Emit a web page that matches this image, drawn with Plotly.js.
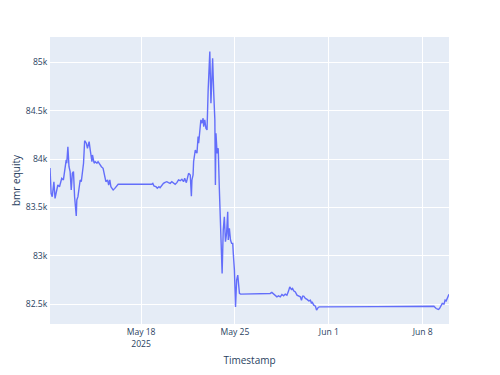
<!DOCTYPE html>
<html>
<head>
<meta charset="utf-8">
<script src="https://cdn.plot.ly/plotly-3.0.1.min.js"></script>
<style>html,body{margin:0;padding:0;background:#fff;}#chart{width:500px;height:375px;}</style>
</head>
<body>
<div id="chart"></div>
<script>
var timestamps = [
"2025-05-11 05:00","2025-05-11 07:00","2025-05-11 09:00","2025-05-11 12:00","2025-05-11 14:00","2025-05-11 17:00",
"2025-05-11 19:00","2025-05-11 22:00","2025-05-12 00:00","2025-05-12 02:00","2025-05-12 05:00","2025-05-12 07:00",
"2025-05-12 10:00","2025-05-12 11:00","2025-05-12 13:00","2025-05-12 15:00","2025-05-12 17:00","2025-05-12 19:00",
"2025-05-12 21:00","2025-05-12 23:00","2025-05-13 01:00","2025-05-13 04:00","2025-05-13 05:00","2025-05-13 07:00",
"2025-05-13 09:00","2025-05-13 11:00","2025-05-13 13:00","2025-05-13 15:00","2025-05-13 17:00","2025-05-13 19:00",
"2025-05-13 22:00","2025-05-14 00:00","2025-05-14 03:00","2025-05-14 05:00","2025-05-14 08:00","2025-05-14 09:00",
"2025-05-14 12:00","2025-05-14 14:00","2025-05-14 17:00","2025-05-14 19:00","2025-05-14 22:00","2025-05-15 01:00",
"2025-05-15 04:00","2025-05-15 07:00","2025-05-15 09:00","2025-05-15 12:00","2025-05-15 14:00","2025-05-15 16:00",
"2025-05-15 18:00","2025-05-15 20:00","2025-05-15 22:00","2025-05-16 01:00","2025-05-16 04:00","2025-05-16 07:00",
"2025-05-18 19:00","2025-05-18 21:00","2025-05-18 23:00","2025-05-19 03:00","2025-05-19 05:00","2025-05-19 08:00",
"2025-05-19 10:00","2025-05-19 13:00","2025-05-19 16:00","2025-05-19 19:00","2025-05-19 22:00","2025-05-20 01:00",
"2025-05-20 04:00","2025-05-20 07:00","2025-05-20 10:00","2025-05-20 13:00","2025-05-20 16:00","2025-05-20 19:00",
"2025-05-20 22:00","2025-05-21 01:00","2025-05-21 04:00","2025-05-21 06:00","2025-05-21 09:00","2025-05-21 11:00",
"2025-05-21 13:00","2025-05-21 16:00","2025-05-21 18:00","2025-05-21 19:00","2025-05-21 21:00","2025-05-21 22:00",
"2025-05-22 01:00","2025-05-22 04:00","2025-05-22 06:00","2025-05-22 07:00","2025-05-22 09:00","2025-05-22 11:00",
"2025-05-22 13:00","2025-05-22 15:00","2025-05-22 16:00","2025-05-22 18:00","2025-05-22 20:00","2025-05-22 22:00",
"2025-05-23 00:00","2025-05-23 01:00","2025-05-23 03:00","2025-05-23 05:00","2025-05-23 07:00","2025-05-23 08:00",
"2025-05-23 10:00","2025-05-23 12:00","2025-05-23 13:00","2025-05-23 14:00","2025-05-23 16:00","2025-05-23 18:00",
"2025-05-23 20:00","2025-05-23 22:00","2025-05-24 01:00","2025-05-24 03:00","2025-05-24 05:00","2025-05-24 07:00",
"2025-05-24 09:00","2025-05-24 11:00","2025-05-24 12:00","2025-05-24 14:00","2025-05-24 16:00","2025-05-24 18:00",
"2025-05-24 20:00","2025-05-24 21:00","2025-05-24 23:00","2025-05-25 01:00","2025-05-25 03:00","2025-05-25 05:00",
"2025-05-25 06:00","2025-05-25 08:00","2025-05-25 10:00","2025-05-27 15:00","2025-05-27 18:00","2025-05-27 21:00",
"2025-05-28 00:00","2025-05-28 03:00","2025-05-28 06:00","2025-05-28 09:00","2025-05-28 12:00","2025-05-28 15:00",
"2025-05-28 18:00","2025-05-28 21:00","2025-05-29 00:00","2025-05-29 02:00","2025-05-29 05:00","2025-05-29 07:00",
"2025-05-29 09:00","2025-05-29 12:00","2025-05-29 15:00","2025-05-29 18:00","2025-05-29 21:00","2025-05-29 23:00",
"2025-05-30 01:00","2025-05-30 03:00","2025-05-30 06:00","2025-05-30 09:00","2025-05-30 12:00","2025-05-30 15:00",
"2025-05-30 17:00","2025-05-30 18:00","2025-05-30 21:00","2025-05-31 00:00","2025-05-31 02:00","2025-05-31 05:00",
"2025-05-31 07:00","2025-06-04 12:00","2025-06-08 20:00","2025-06-09 00:00","2025-06-09 04:00","2025-06-09 06:00",
"2025-06-09 09:00","2025-06-09 11:00","2025-06-09 14:00","2025-06-09 16:00","2025-06-09 18:00","2025-06-09 21:00",
"2025-06-09 23:00"
];
var bmrEquity = [
83908,83646,83611,83766,83594,83663,
83732,83714,83749,83801,83784,83887,
83991,83957,84128,83921,83870,83680,
83853,83870,83611,83411,83577,83611,
83732,83784,83766,83870,83957,84190,
84164,84112,84180,84094,83973,84042,
83957,83973,83957,83973,83939,83921,
83905,83818,83766,83784,83732,83784,
83714,83697,83680,83697,83714,83739,
83739,83749,83722,83714,83698,83714,
83704,83732,83749,83760,83766,83756,
83749,83766,83749,83739,83756,83784,
83776,83791,83766,83801,83756,83818,
83853,83835,83615,83784,83835,83975,
84094,84060,84232,84164,84301,84405,
84371,84422,84335,84405,84319,84301,
84715,84888,85112,84578,84853,85043,
84681,84405,83732,84267,84060,84112,
83700,83370,82818,83266,83404,83145,
83232,83455,83163,83284,83163,83128,
83128,83025,82852,82472,82748,82800,
82748,82611,82604,82611,82621,82604,
82586,82576,82586,82576,82600,82586,
82604,82593,82638,82679,82652,82662,
82638,82627,82593,82583,82576,82541,
82583,82583,82559,82549,82534,82541,
82507,82524,82490,82479,82438,82466,
82472,82475,82479,82455,82445,82455,
82479,82507,82500,82541,82534,82583,
82603
];

var trace = {
  x: timestamps,
  y: bmrEquity,
  type: 'scatter',
  mode: 'lines',
  line: {color: '#636efa', width: 1.4}
};

var layout = {
  width: 500,
  height: 375,
  margin: {l: 50, r: 51, t: 37, b: 51},
  paper_bgcolor: '#ffffff',
  plot_bgcolor: '#E5ECF6',
  font: {family: '"Open Sans", verdana, arial, sans-serif', size: 8.6, color: '#2a3f5f'},
  showlegend: false,
  xaxis: {
    title: {text: 'Timestamp', font: {size: 10}},
    type: 'date',
    gridcolor: '#ffffff',
    linecolor: '#ffffff',
    zeroline: false,
    ticks: ''
  },
  yaxis: {
    title: {text: 'bmr equity', font: {size: 10}},
    range: [82295, 85262],
    gridcolor: '#ffffff',
    linecolor: '#ffffff',
    zeroline: false,
    ticks: ''
  }
};

Plotly.newPlot('chart', [trace], layout, {displayModeBar: false, staticPlot: true});
</script>
</body>
</html>
